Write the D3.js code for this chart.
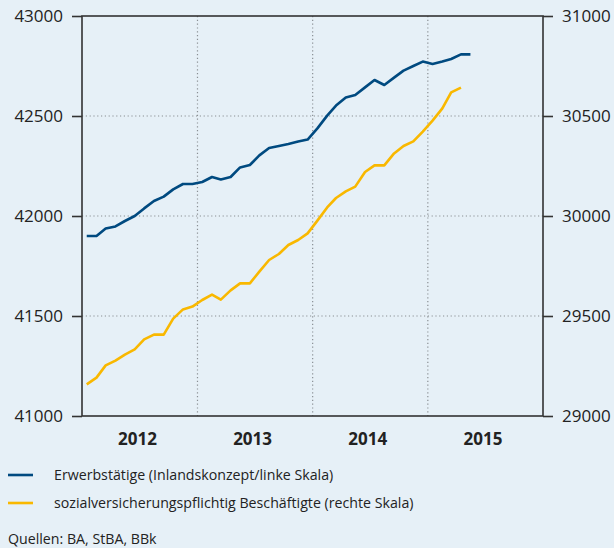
<!DOCTYPE html>
<html>
<head>
<meta charset="utf-8">
<script src="https://cdn.jsdelivr.net/npm/d3@7"></script>
<style>
  html, body { margin: 0; padding: 0; background: #e6f0f7; }
  svg { display: block; }
  text { font-family: "Open Sans", "Noto Sans", sans-serif; fill: #222; }
</style>
</head>
<body>
<svg id="chart" width="614" height="548"></svg>
<script>
// ---- data (monthly, starting January 2012) ----
const startYear = 2012;
const erwerbstaetige = [ // thousands, left scale
  41900, 41900, 41937, 41948, 41975, 42000, 42038, 42075, 42097, 42133, 42160, 42160,
  42170, 42195, 42183, 42195, 42243, 42255, 42303, 42340, 42350, 42360, 42372, 42382,
  42438, 42502, 42552, 42593, 42605, 42643, 42680, 42655, 42692, 42727, 42750, 42772,
  42760, 42772, 42785, 42808, 42808
];
const svBeschaeftigte = [ // thousands, right scale
  29158, 29192, 29253, 29277, 29307, 29333, 29383, 29407, 29407, 29487, 29533, 29547,
  29580, 29607, 29582, 29628, 29663, 29663, 29722, 29780, 29810, 29855, 29880, 29913,
  29977, 30043, 30090, 30123, 30147, 30220, 30253, 30253, 30313, 30350, 30373, 30422,
  30477, 30538, 30618, 30642
];
const years = [2012, 2013, 2014, 2015];
const leftTicks = [41000, 41500, 42000, 42500, 43000];
const rightTicks = [29000, 29500, 30000, 30500, 31000];
const legendLabels = [
  "Erwerbstätige (Inlandskonzept/linke Skala)",
  "sozialversicherungspflichtig Beschäftigte (rechte Skala)"
];
const sourceText = "Quellen: BA, StBA, BBk";
const colors = ["#004a80", "#f9b800"];

// ---- layout ----
const svg = d3.select("#chart");
const L = 82, R = 543, T = 16, B = 416;

const x = d3.scaleTime().domain([new Date(2012, 0, 1), new Date(2016, 0, 1)]).range([L, R]);
const yL = d3.scaleLinear().domain([41000, 43000]).range([B, T]);
const yR = d3.scaleLinear().domain([29000, 31000]).range([B, T]);

const monthDate = i => new Date(startYear + Math.floor(i / 12), i % 12, 16);

// grid
const grid = svg.append("g").attr("stroke", "#8a8f94").attr("stroke-width", 1.2)
  .attr("stroke-dasharray", "1.2,2.6");
leftTicks.filter(v => v > 41000 && v < 43000).forEach(v => {
  grid.append("line").attr("x1", L).attr("x2", R).attr("y1", yL(v)).attr("y2", yL(v));
});
years.slice(1).forEach(yr => {
  const xx = x(new Date(yr, 0, 1));
  grid.append("line").attr("x1", xx).attr("x2", xx).attr("y1", T).attr("y2", B);
});

// axes
const axL = svg.append("g").attr("transform", `translate(${L},0)`)
  .call(d3.axisLeft(yL).tickValues(leftTicks).tickSize(10).tickPadding(9).tickFormat(d3.format("d")));
const axR = svg.append("g").attr("transform", `translate(${R},0)`)
  .call(d3.axisRight(yR).tickValues(rightTicks).tickSize(10).tickPadding(9).tickFormat(d3.format("d")));
[axL, axR].forEach(a => {
  a.select(".domain").remove();
  a.selectAll(".tick line").attr("stroke", "#333").attr("stroke-width", 1.6);
  a.selectAll(".tick text").attr("font-size", 17).attr("fill", "#222")
    .style("font-family", '"Open Sans", sans-serif');
});

// box
svg.append("rect").attr("x", L).attr("y", T).attr("width", R - L).attr("height", B - T)
  .attr("fill", "none").attr("stroke", "#333").attr("stroke-width", 1.6);

// year labels
svg.append("g").selectAll("text").data(years).join("text")
  .attr("x", d => x(new Date(d, 6, 1)) - 2)
  .attr("y", 445)
  .attr("text-anchor", "middle")
  .attr("font-size", 17).attr("font-weight", "bold")
  .text(d => d);

// lines
const lineL = d3.line().x((d, i) => x(monthDate(i))).y(d => yL(d));
const lineR = d3.line().x((d, i) => x(monthDate(i))).y(d => yR(d));
svg.append("path").datum(svBeschaeftigte).attr("d", lineR)
  .attr("fill", "none").attr("stroke", colors[1]).attr("stroke-width", 2.6).attr("stroke-linejoin", "round");
svg.append("path").datum(erwerbstaetige).attr("d", lineL)
  .attr("fill", "none").attr("stroke", colors[0]).attr("stroke-width", 2.6).attr("stroke-linejoin", "round");

// legend
const lg = svg.append("g");
legendLabels.forEach((lab, i) => {
  const yy = 475 + i * 28;
  lg.append("line").attr("x1", 8).attr("x2", 33).attr("y1", yy).attr("y2", yy)
    .attr("stroke", colors[i]).attr("stroke-width", 2.6);
  lg.append("text").attr("x", 54).attr("y", yy + 5).attr("font-size", 14.2).text(lab);
});
svg.append("text").attr("x", 8).attr("y", 544).attr("font-size", 14.2).text(sourceText);
</script>
</body>
</html>
